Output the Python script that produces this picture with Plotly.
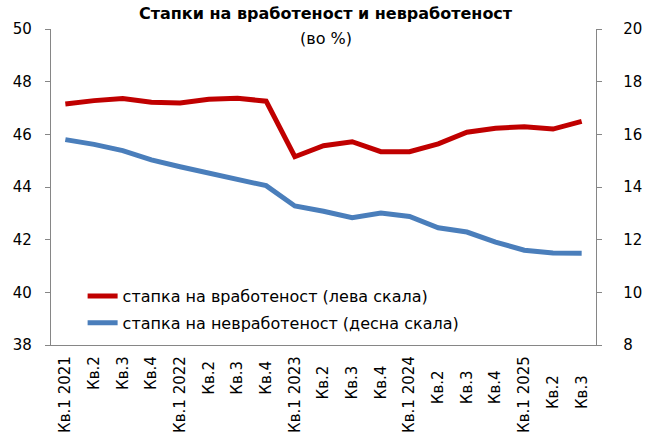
import plotly.graph_objects as go

categories = ["Кв.1 2021", "Кв.2", "Кв.3", "Кв.4",
              "Кв.1 2022", "Кв.2 ", "Кв.3 ", "Кв.4 ",
              "Кв.1 2023", "Кв.2  ", "Кв.3  ", "Кв.4  ",
              "Кв.1 2024", "Кв.2   ", "Кв.3   ", "Кв.4   ",
              "Кв.1 2025", "Кв.2    ", "Кв.3    "]
employment = [47.15, 47.28, 47.36, 47.22, 47.19, 47.33, 47.37, 47.26,
              45.15, 45.57, 45.72, 45.34, 45.34, 45.64, 46.08, 46.23,
              46.29, 46.20, 46.49]
unemployment = [15.80, 15.62, 15.38, 15.03, 14.77, 14.52, 14.31, 14.05,
                13.28, 13.08, 12.83, 13.01, 12.88, 12.45, 12.29, 11.91,
                11.60, 11.49, 11.48]
left_ticks = [38, 40, 42, 44, 46, 48, 50]
right_ticks = [8, 10, 12, 14, 16, 18, 20]

title_text = "<b>Стапки на вработеност и невработеност</b>"
subtitle_text = "(во %)"
name_emp = "стапка на вработеност (лева скала)"
name_unemp = "стапка на невработеност (десна скала)"

FONT = "DejaVu Sans"
AXIS_COLOR = "#868686"
L, R, T, B = 51, 55, 29, 90
W, H = 651, 435
plot_w = W - L - R
plot_h = H - T - B

fig = go.Figure()
fig.add_trace(go.Scatter(
    x=categories, y=employment, name=name_emp, mode="lines",
    line=dict(color="#C00000", width=5), yaxis="y", legendgroup="a"))
fig.add_trace(go.Scatter(
    x=categories, y=unemployment, name=name_unemp, mode="lines",
    line=dict(color="#4A7EBB", width=5), yaxis="y2", legendgroup="b"))

fig.update_layout(
    width=W, height=H,
    margin=dict(l=L, r=R, t=T, b=B, autoexpand=False),
    paper_bgcolor="white", plot_bgcolor="white",
    font=dict(family=FONT, size=15, color="#000000"),
    showlegend=True,
    legend=dict(x=0.058, y=(345 - 309.5) / plot_h, xanchor="left",
                yanchor="middle", bgcolor="rgba(0,0,0,0)",
                font=dict(size=16, family=FONT),
                tracegroupgap=3, itemwidth=30),
    xaxis=dict(type="category", range=[-0.5, len(categories) - 0.5],
               showline=True, linecolor=AXIS_COLOR, linewidth=1.3,
               ticks="", tickangle=-90, showgrid=False, zeroline=False,
               tickfont=dict(size=15, family=FONT),
               ticklabelstandoff=4, automargin=False),
    yaxis=dict(range=[38, 50], tickvals=left_ticks, showline=True,
               linecolor=AXIS_COLOR, linewidth=1.3, ticks="outside",
               ticklen=5, tickcolor=AXIS_COLOR, showgrid=False,
               zeroline=False, tickfont=dict(size=15, family=FONT),
               ticklabelstandoff=10, automargin=False),
    yaxis2=dict(range=[8, 20], tickvals=right_ticks, overlaying="y",
                side="right", showline=True, linecolor=AXIS_COLOR,
                linewidth=1.3, ticks="outside", ticklen=5,
                tickcolor=AXIS_COLOR, showgrid=False, zeroline=False,
                tickfont=dict(size=15, family=FONT), ticklabelstandoff=18,
                automargin=False),
)

title_x = (W / 2 - L) / plot_w
fig.add_annotation(text=title_text, x=title_x, y=1 + (T - 14) / plot_h,
                   xref="paper", yref="paper", yanchor="middle",
                   showarrow=False, font=dict(size=16, family=FONT))
fig.add_annotation(text=subtitle_text, x=title_x, y=1 + (T - 38) / plot_h,
                   xref="paper", yref="paper", yanchor="middle",
                   showarrow=False, font=dict(size=16, family=FONT))

fig.write_html(
    "out.html",
    config={"displayModeBar": False},
    post_script="document.body.style.margin='0';document.body.style.padding='0';"
)
